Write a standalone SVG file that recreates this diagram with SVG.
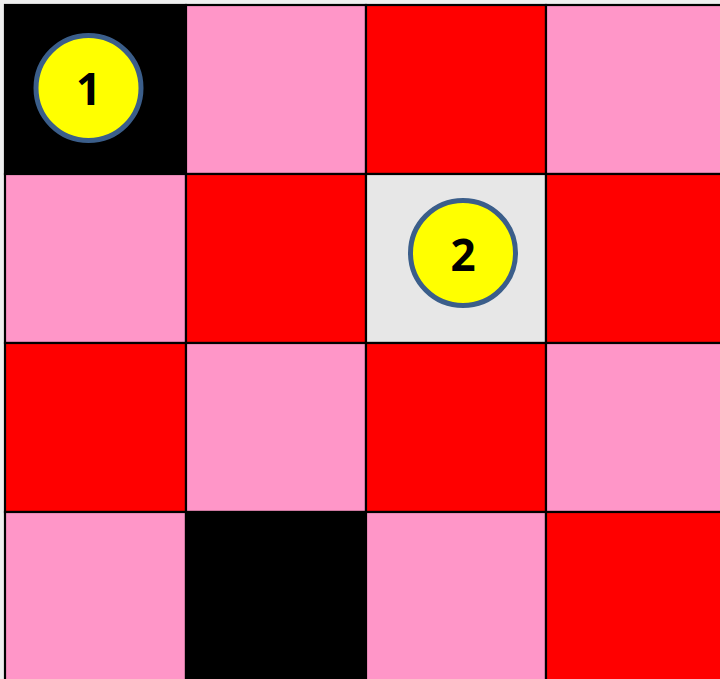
<svg xmlns="http://www.w3.org/2000/svg" width="720" height="679" viewBox="0 0 720 679">
<style>
.c{stroke:#000;stroke-width:2.2}
.k{fill:#000}.p{fill:#ff96c8}.r{fill:#ff0000}.g{fill:#e7e7e7}
.m circle{fill:#ffff00;stroke:#3b5e8a;stroke-width:5}
.m text{font-family:"Open Sans","Noto Sans",sans-serif;font-weight:bold;font-size:44px;text-anchor:middle;fill:#000}
</style>
<rect width="720" height="679" fill="#efefef"/>
<g id="grid">
<rect class="c k" x="5" y="5" width="181" height="169"/>
<rect class="c p" x="186" y="5" width="180" height="169"/>
<rect class="c r" x="366" y="5" width="180" height="169"/>
<rect class="c p" x="546" y="5" width="180" height="169"/>
<rect class="c p" x="5" y="174" width="181" height="169"/>
<rect class="c r" x="186" y="174" width="180" height="169"/>
<rect class="c g" x="366" y="174" width="180" height="169"/>
<rect class="c r" x="546" y="174" width="180" height="169"/>
<rect class="c r" x="5" y="343" width="181" height="169"/>
<rect class="c p" x="186" y="343" width="180" height="169"/>
<rect class="c r" x="366" y="343" width="180" height="169"/>
<rect class="c p" x="546" y="343" width="180" height="169"/>
<rect class="c p" x="5" y="512" width="181" height="175"/>
<rect class="c k" x="186" y="512" width="180" height="175"/>
<rect class="c p" x="366" y="512" width="180" height="175"/>
<rect class="c r" x="546" y="512" width="180" height="175"/>
</g>
<g id="node1" class="m">
<circle cx="88.5" cy="88" r="52.5"/>
<text x="88.5" y="105">1</text>
</g>
<g id="node2" class="m">
<circle cx="463" cy="253" r="52.5"/>
<text x="463" y="271">2</text>
</g>
</svg>
